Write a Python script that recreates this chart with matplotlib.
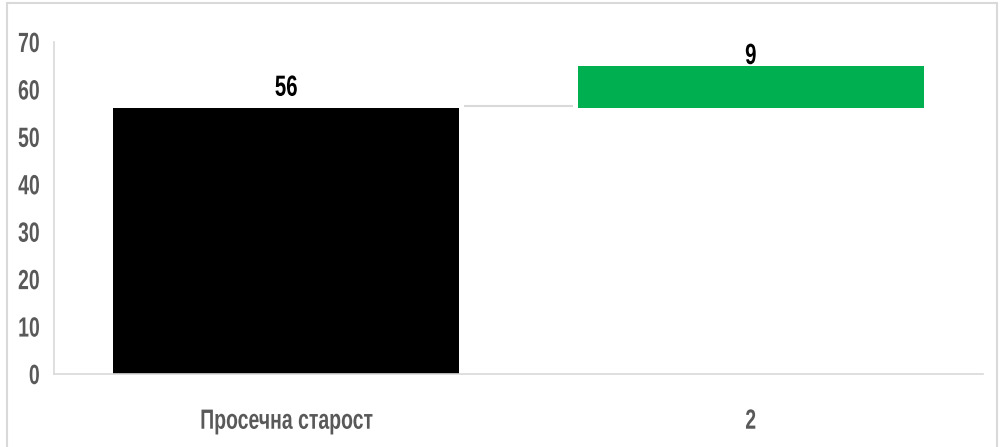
import matplotlib
matplotlib.use("Agg")
import matplotlib.pyplot as plt
import matplotlib.patheffects as pe
from matplotlib.patches import Rectangle
from matplotlib.transforms import Affine2D

categories = ["Просечна старост", "2"]
values = [56, 9]
bar_colors = ["#000000", "#00b050"]
yticks = [0, 10, 20, 30, 40, 50, 60, 70]

plt.rcParams["font.family"] = ["Liberation Sans", "DejaVu Sans"]


class Condense(pe.AbstractPathEffect):
    """Squeeze text horizontally, to mimic a condensed typeface."""

    def __init__(self, sx=0.72, anchor="center"):
        super().__init__()
        self.sx = sx
        self.anchor = anchor

    def draw_path(self, renderer, gc, tpath, affine, rgbFace=None):
        ext = tpath.get_extents()
        if self.anchor == "right":
            cx = ext.x1
        elif self.anchor == "left":
            cx = ext.x0
        else:
            cx = (ext.x0 + ext.x1) / 2
        squeeze = Affine2D().translate(-cx, 0).scale(self.sx, 1).translate(cx, 0)
        renderer.draw_path(gc, tpath, squeeze + affine, rgbFace)


W, H = 1004, 447
fig = plt.figure(figsize=(W / 100, H / 100), dpi=100)
ax = fig.add_axes([54 / W, 1 - 374 / H, (983 - 54) / W, (374 - 42) / H])

# waterfall: each bar starts where the previous one ended
bottoms = [0]
for v in values[:-1]:
    bottoms.append(bottoms[-1] + v)
x = list(range(len(categories)))
width = 0.745
ax.bar(x, values, bottom=bottoms, width=width, color=bar_colors)

# connector between bars
for i in range(len(values) - 1):
    level = bottoms[i] + values[i]
    ax.plot([x[i] + width / 2 + 0.01, x[i + 1] - width / 2 - 0.01], [level + 0.5, level + 0.5],
            color="#d9d9d9", lw=1.5, solid_capstyle="butt")

label_offsets = [1.4, -0.9]
for xi, b, v, off in zip(x, bottoms, values, label_offsets):
    ax.text(xi, b + v + off, str(v), ha="center", va="bottom",
            fontsize=21, fontweight="bold", color="black",
            path_effects=[Condense(0.7)])

ax.set_xlim(-0.5, len(categories) - 0.5)
ax.set_ylim(0, 70)
ax.set_yticks(yticks)
ax.set_xticks(x)
ax.set_xticklabels(categories)
ax.tick_params(length=0, labelsize=20, labelcolor="#595959")
ax.tick_params(axis="x", pad=25)
ax.tick_params(axis="y", pad=10)
for lab in ax.get_xticklabels():
    lab.set_fontweight("bold")
    lab.set_path_effects([Condense(0.7)])
for lab in ax.get_yticklabels():
    lab.set_fontweight("bold")
    lab.set_path_effects([Condense(0.7, anchor="right")])
for s in ["top", "right"]:
    ax.spines[s].set_visible(False)
for s in ["left", "bottom"]:
    ax.spines[s].set_color("#d9d9d9")
    ax.spines[s].set_linewidth(1.2)

# chart area border
fig.patches.append(Rectangle((7 / W, -0.01), (997 - 7) / W, 1 - 3 / H + 0.01,
                             transform=fig.transFigure, fill=False,
                             edgecolor="#d9d9d9", lw=1.5))

fig.savefig("out.png", dpi=100)
